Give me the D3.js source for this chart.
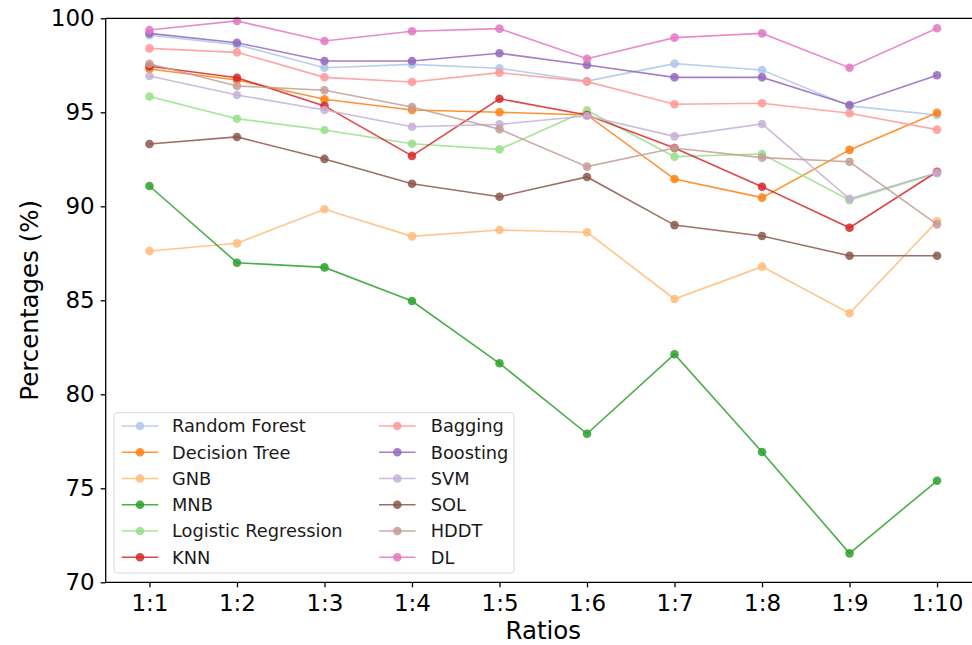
<!DOCTYPE html>
<html><head><meta charset="utf-8">
<script src="https://cdn.jsdelivr.net/npm/d3@7"></script>
<style>body{margin:0;background:#fff}svg{display:block;font-family:"DejaVu Sans",sans-serif}</style>
</head><body><svg id="c" width="972" height="645"></svg>
<script>
const ratios = ["1:1","1:2","1:3","1:4","1:5","1:6","1:7","1:8","1:9","1:10"];
const yTicks = [70,75,80,85,90,95,100];
const seriesNames = ["Random Forest","Decision Tree","GNB","MNB","Logistic Regression","KNN","Bagging","Boosting","SVM","SOL","HDDT","DL"];
const seriesColors = ["#aec7e8","#ff7f0e","#ffbb78","#2ca02c","#98df8a","#d62728","#ff9896","#9467bd","#c5b0d5","#8c564b","#c49c94","#e377c2"];
const randomForest = [99.1,98.6,97.37,97.55,97.34,96.66,97.59,97.25,95.34,94.86];
const decisionTree = [97.3,96.72,95.69,95.12,95.0,94.86,91.45,90.46,93.0,94.98];
const gnb = [87.62,88.03,89.84,88.4,88.74,88.62,85.07,86.79,84.31,89.2];
const mnb = [91.08,87.0,86.75,84.96,81.65,77.9,82.13,76.93,71.54,75.4];
const logisticRegression = [95.84,94.66,94.06,93.33,93.03,95.1,92.64,92.78,90.33,91.76];
const knn = [97.45,96.84,95.34,92.68,95.72,94.86,93.1,91.04,88.86,91.84];
const bagging = [98.4,98.19,96.86,96.61,97.11,96.63,95.43,95.48,94.95,94.08];
const boosting = [99.2,98.7,97.73,97.73,98.14,97.52,96.86,96.86,95.39,96.97];
const svm = [96.93,95.92,95.12,94.23,94.36,94.8,93.72,94.38,90.4,91.78];
const sol = [93.31,93.69,92.52,91.2,90.51,91.56,89.0,88.42,87.37,87.37];
const hddt = [97.58,96.4,96.17,95.28,94.1,92.11,93.1,92.59,92.37,89.04];
const dl = [99.38,99.86,98.79,99.31,99.45,97.85,98.97,99.2,97.37,99.47];
const seriesValues = [randomForest,decisionTree,gnb,mnb,logisticRegression,knn,bagging,boosting,svm,sol,hddt,dl];

const svg = d3.select("#c");
const x0 = 105.7, x1 = 980.8, yTop = 18.3, yBot = 582.3;
const x = d3.scalePoint().domain(ratios).range([x0, x1]).padding(0.5);
const y = d3.scaleLinear().domain([70,100]).range([yBot, yTop]);

// series
const line = d3.line().x((d,i)=>x(ratios[i])).y(d=>y(d));
seriesValues.forEach((vals, k) => {
  const g = svg.append("g");
  g.append("path").attr("d", line(vals)).attr("fill","none")
    .attr("stroke", seriesColors[k]).attr("stroke-width",1.6).attr("stroke-opacity",0.85);
  g.selectAll("circle").data(vals).join("circle")
    .attr("cx",(d,i)=>x(ratios[i])).attr("cy",d=>y(d)).attr("r",4.3)
    .attr("fill", seriesColors[k]).attr("fill-opacity",0.85);
});

// axes
const ax = svg.append("g").attr("transform",`translate(0,${yBot})`)
  .call(d3.axisBottom(x).tickSize(5).tickPadding(7.5).tickSizeOuter(0));
const ay = svg.append("g").attr("transform",`translate(${x0},0)`)
  .call(d3.axisLeft(y).tickValues(yTicks).tickFormat(d3.format("d")).tickSize(5).tickPadding(6).tickSizeOuter(0));
[ax, ay].forEach(a => {
  a.select(".domain").attr("stroke","#000").attr("stroke-width",1.3);
  a.selectAll(".tick line").attr("stroke","#000").attr("stroke-width",1.3);
  a.selectAll(".tick text").attr("font-size",23).attr("fill","#000").attr("font-family","DejaVu Sans");
});
ax.select(".domain").attr("d", `M${x0},0H${x1}`);
ay.select(".domain").attr("d", `M0,${yBot}V${yTop}`);
svg.append("line").attr("x1",x0).attr("x2",x1).attr("y1",yTop).attr("y2",yTop)
  .attr("stroke","#000").attr("stroke-width",1.3);

// axis labels
svg.append("text").attr("x",(x0+x1)/2).attr("y",639).attr("text-anchor","middle")
  .attr("font-size",24.5).attr("fill","#000").text("Ratios");
svg.append("text").attr("transform",`translate(38,${(yTop+yBot)/2}) rotate(-90)`)
  .attr("text-anchor","middle").attr("font-size",24.5).attr("fill","#000").text("Percentages (%)");

// legend
const lg = svg.append("g");
lg.append("rect").attr("x",114).attr("y",412.7).attr("width",400).attr("height",160.3)
  .attr("rx",3).attr("fill","#fff").attr("fill-opacity",0.8).attr("stroke","#d9d9d9").attr("stroke-width",1);
seriesNames.forEach((name,k) => {
  const col = Math.floor(k/6), row = k%6;
  const hx = col===0 ? 121.7 : 379, tx = col===0 ? 172 : 430.7;
  const cy = 426 + row*26.25;
  lg.append("line").attr("x1",hx).attr("x2",hx+36.6).attr("y1",cy).attr("y2",cy)
    .attr("stroke",seriesColors[k]).attr("stroke-width",1.6).attr("stroke-opacity",0.85);
  lg.append("circle").attr("cx",hx+18.3).attr("cy",cy).attr("r",4.3)
    .attr("fill",seriesColors[k]).attr("fill-opacity",0.85);
  lg.append("text").attr("x",tx).attr("y",cy).attr("dy","0.36em").attr("font-size",17.8)
    .attr("fill","#1a1a1a").text(name);
});
</script></body></html>
